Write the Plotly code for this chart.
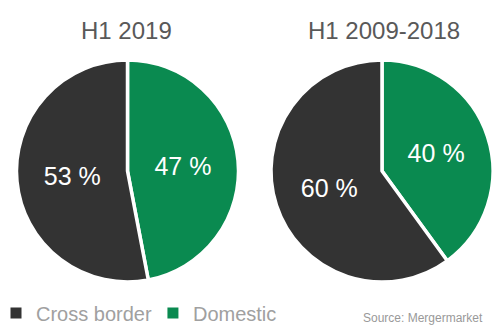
import plotly.graph_objects as go

labels = ["Cross border", "Domestic"]
h1_2019 = [53, 47]
h1_2009_2018 = [60, 40]
titles = ["H1 2019", "H1 2009-2018"]
colors = ["#333333", "#0A8A50"]

W, H = 493, 325
FONT = "Liberation Sans, Arial"

def dom(x0, x1, y0, y1):
    return dict(x=[x0 / W, min(x1 / W, 1)], y=[1 - y1 / H, 1 - y0 / H])

fig = go.Figure()
for i, (vals, d) in enumerate([(h1_2019, dom(16, 239, 60, 282)), (h1_2009_2018, dom(271, 494, 60, 282))]):
    # drawn Domestic first, clockwise from 12 o'clock
    fig.add_trace(go.Pie(
        labels=labels[::-1], values=vals[::-1], sort=False, direction="clockwise", rotation=0,
        marker=dict(colors=colors[::-1], line=dict(color="white", width=3.5)),
        texttemplate="%{value} %", textinfo="value", textposition="inside",
        insidetextfont=dict(color="white", size=25, family=FONT),
        domain=d, showlegend=False, hoverinfo="label+percent",
    ))

# legend entries with square markers
for lab, c in zip(labels, colors):
    fig.add_trace(go.Scatter(x=[None], y=[None], mode="markers", name=lab,
                             marker=dict(symbol="square", size=11, color=c)))

for t, x in zip(titles, [127, 384]):
    fig.add_annotation(text=t, x=x / W, y=1 - 30 / H, xref="paper", yref="paper",
                       showarrow=False, xanchor="center", yanchor="middle",
                       font=dict(size=24, color="#595959", family=FONT))

fig.add_annotation(text="Source: Mergermarket", x=485 / W, y=1 - 318 / H, xref="paper", yref="paper",
                   showarrow=False, xanchor="right", yanchor="middle",
                   font=dict(size=12, color="#999999", family=FONT))

fig.update_layout(
    width=W, height=H, margin=dict(l=0, r=0, t=0, b=0, autoexpand=False),
    paper_bgcolor="white", plot_bgcolor="white",
    xaxis=dict(visible=False), yaxis=dict(visible=False),
    legend=dict(orientation="h", x=0, y=1 - 313 / H, xanchor="left", yanchor="middle",
                font=dict(size=20, color="#A0A0A0", family=FONT), indentation=-4,
                itemwidth=30, bgcolor="rgba(0,0,0,0)"),
)

fig.write_html("out.html")
